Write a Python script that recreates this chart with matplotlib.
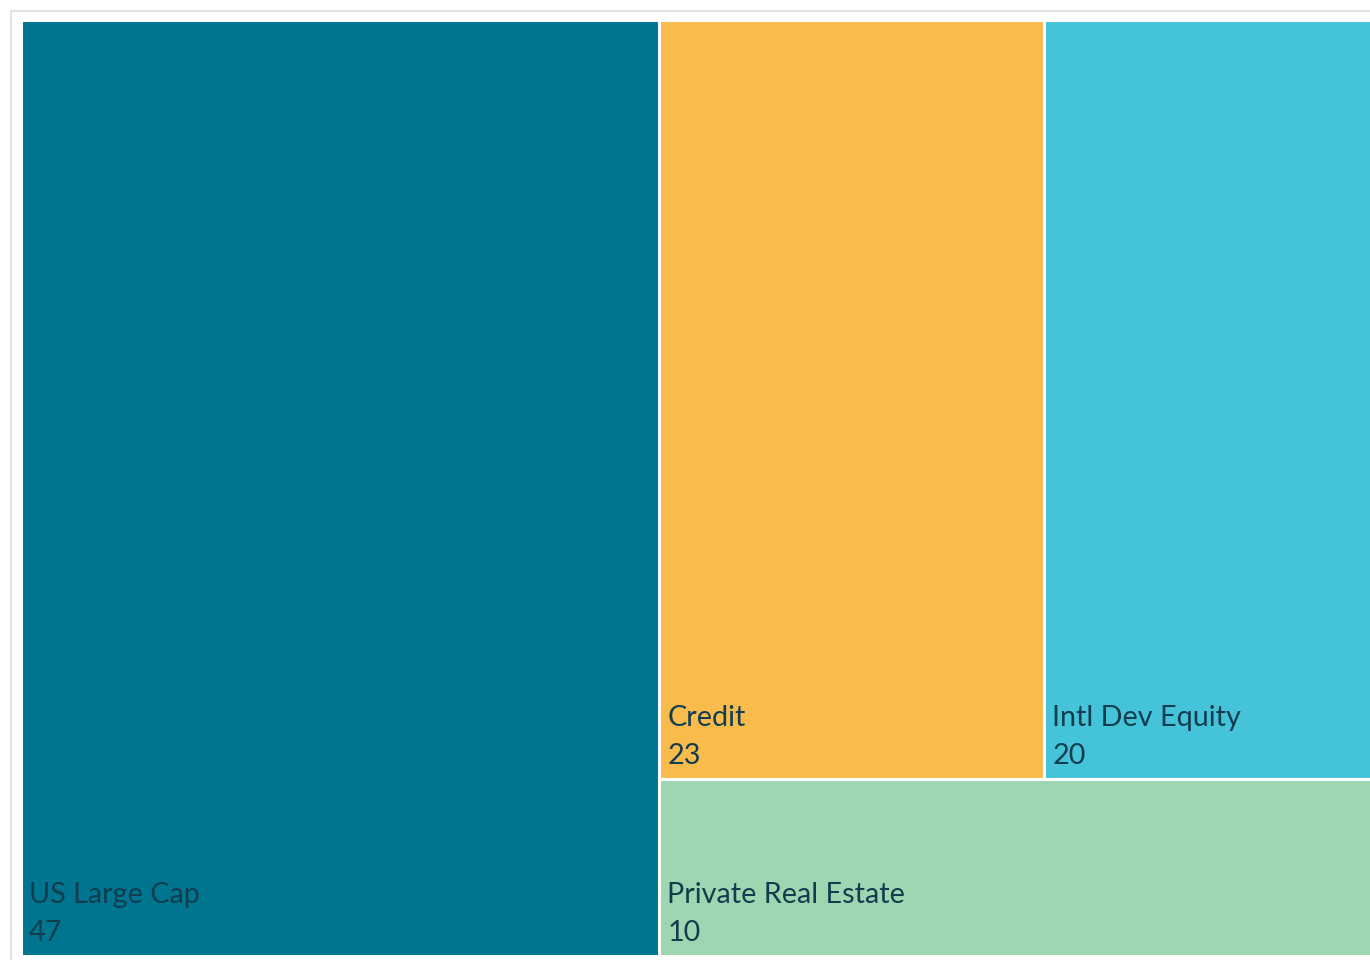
import matplotlib
matplotlib.use("Agg")
import matplotlib.pyplot as plt
from matplotlib.patches import Rectangle

categories = ["US Large Cap", "Credit", "Intl Dev Equity", "Private Real Estate"]
values = [47, 23, 20, 10]
colors = ["#007590", "#F9BB4C", "#45C3D8", "#9DD6B0"]
text_color = "#113d4f"

FW, FH = 1370, 960
fig = plt.figure(figsize=(FW / 100, FH / 100), dpi=100)
fig.patch.set_facecolor("white")

# container frame
frame = Rectangle((10.5 / FW, -0.1), 1.2, (FH - 10.5) / FH + 0.1, transform=fig.transFigure,
                  fill=False, edgecolor="#dcdcdc", linewidth=1.2)
fig.add_artist(frame)

# treemap area in pixels
X0, Y0 = 21, 20
W, H = 1358, 936
ax = fig.add_axes([X0 / FW, (FH - Y0 - H) / FH, W / FW, H / FH])
ax.set_xlim(0, W)
ax.set_ylim(H, 0)
ax.axis("off")

total = sum(values)
# layout: first item as a full-height column, next two as a row, last below
rects = []
w0 = W * values[0] / total
rects.append((0, 0, w0, H))
rest = total - values[0]
rw = W - w0
row_sum = values[1] + values[2]
row_h = H * row_sum / rest
x = w0
for v in values[1:3]:
    w = rw * v / row_sum
    rects.append((x, 0, w, row_h))
    x += w
rects.append((w0, row_h, rw, H - row_h))

for (rx, ry, rw_, rh), c, name, v in zip(rects, colors, categories, values):
    ax.add_patch(Rectangle((rx, ry), rw_, rh, facecolor=c, edgecolor="white",
                           linewidth=2.2, clip_on=False))
    ax.text(rx + 8, ry + rh - 15, str(v), color=text_color, fontsize=20.7,
            family="Lato", va="baseline", ha="left")
    ax.text(rx + 8, ry + rh - 53, name, color=text_color, fontsize=20.7,
            family="Lato", va="baseline", ha="left")

fig.savefig("out.png", dpi=100, facecolor="white")
